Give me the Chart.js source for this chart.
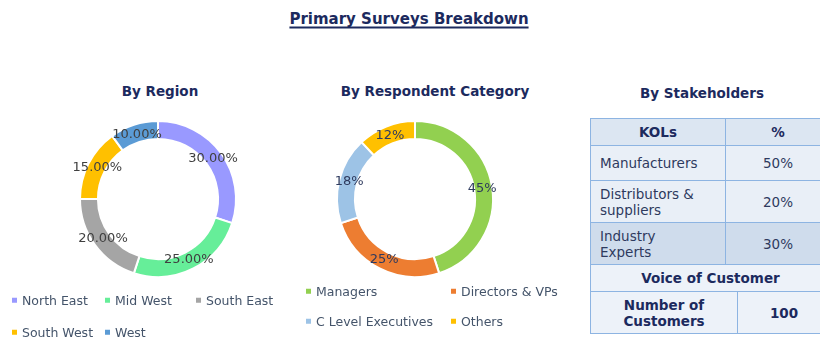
<!DOCTYPE html>
<html>
<head>
<meta charset="utf-8">
<script src="https://cdn.jsdelivr.net/npm/chart.js@4/dist/chart.umd.min.js"></script>
<style>
  html, body { margin: 0; padding: 0; background: #ffffff; }
  body { width: 820px; height: 350px; position: relative; overflow: hidden; font-family: "DejaVu Sans", Verdana, sans-serif; }
  .abs { position: absolute; white-space: nowrap; line-height: 1; }
  .center { transform: translate(-50%, -50%); }
  #title { left: 409px; top: 19px; font-size: 15px; font-weight: bold; color: #1C2A5E;
           text-decoration: underline; text-decoration-thickness: 2px; text-underline-offset: 3px; }
  .sub { font-size: 13.5px; font-weight: bold; color: #1C2A5E; }
  .donut { position: absolute; width: 200px; height: 200px; }
  .leg { position: absolute; font-size: 12.5px; color: #44546A; line-height: 1; white-space: nowrap; transform: translateY(-50%); }
  .leg i { display: inline-block; width: 5px; height: 5px; margin-right: 5px; vertical-align: middle; position: relative; top: -1px; }
  table { position: absolute; border-collapse: collapse; font-size: 13.5px; color: #2E3A5E; }
  td { border: 1.5px solid #8DB4E2; padding: 0; }
</style>
</head>
<body>
<div id="title" class="abs center">Primary Surveys Breakdown</div>
<div class="abs center sub" style="left:160px; top:92px;">By Region</div>
<div class="abs center sub" style="left:435px; top:92px;">By Respondent Category</div>
<div class="abs center sub" style="left:702px; top:94px;">By Stakeholders</div>

<div class="donut" style="left:58px; top:99px;"><canvas id="regionChart" width="200" height="200"></canvas></div>
<div class="donut" style="left:315px; top:99px;"><canvas id="respChart" width="200" height="200"></canvas></div>

<div id="regionLegend"></div>
<div id="respLegend"></div>

<table id="kolTable" style="left:590px; top:118px; width:241px;"></table>
<table id="vocTable" style="left:590px; top:264px; width:241px;"></table>

<script>
// Survey split by region
const regionLabels = ["North East", "Mid West", "South East", "South West", "West"];
const regionShares = [30, 25, 20, 15, 10];
const regionColors = ["#9999FF", "#66EE99", "#A5A5A5", "#FFC000", "#5B9BD5"];

// Survey split by respondent category
const respLabels = ["Managers", "Directors & VPs", "C Level Executives", "Others"];
const respShares = [45, 25, 18, 12];
const respColors = ["#92D050", "#ED7D31", "#9DC3E6", "#FFC000"];

// Stakeholder table
const kolNames = ["Manufacturers", "Distributors &<br>suppliers", "Industry<br>Experts"];
const kolShares = [50, 20, 30];
const customerCount = 100;

// Writes each slice's value at the middle of its ring segment
const sliceLabels = {
  id: "sliceLabels",
  afterDatasetsDraw(chart, args, opts) {
    const ctx = chart.ctx;
    const meta = chart.getDatasetMeta(0);
    const data = chart.data.datasets[0].data;
    ctx.save();
    ctx.font = "13px 'DejaVu Sans'";
    ctx.fillStyle = opts.color;
    ctx.textAlign = "center";
    ctx.textBaseline = "middle";
    meta.data.forEach((arc, i) => {
      const p = arc.getProps(["x", "y", "startAngle", "endAngle", "innerRadius", "outerRadius"], true);
      const a = (p.startAngle + p.endAngle) / 2;
      const r = (p.innerRadius + p.outerRadius) / 2 - 1;
      ctx.fillText(opts.format(data[i]), p.x + Math.cos(a) * r, p.y + Math.sin(a) * r);
    });
    ctx.restore();
  }
};

function makeDonut(id, labels, values, colors, color, format) {
  return new Chart(document.getElementById(id), {
    type: "doughnut",
    data: {
      labels: labels,
      datasets: [{
        data: values,
        backgroundColor: colors,
        borderColor: "#ffffff",
        borderWidth: 2,
        hoverOffset: 0
      }]
    },
    options: {
      responsive: false,
      animation: false,
      events: [],
      radius: 78,
      cutout: "77%",
      layout: { padding: 0 },
      plugins: {
        legend: { display: false },
        tooltip: { enabled: false },
        sliceLabels: { color: color, format: format }
      }
    },
    plugins: [sliceLabels]
  });
}

makeDonut("regionChart", regionLabels, regionShares, regionColors, "#404040", v => v.toFixed(2) + "%");
makeDonut("respChart", respLabels, respShares, respColors, "#2E3A5E", v => v + "%");

function buildLegend(hostId, labels, colors, cols, rows) {
  const host = document.getElementById(hostId);
  labels.forEach((lab, i) => {
    const el = document.createElement("div");
    el.className = "leg";
    el.style.left = cols[i % cols.length] + "px";
    el.style.top = rows[Math.floor(i / cols.length)] + "px";
    el.innerHTML = '<i style="background:' + colors[i] + '"></i>' + lab.replace(/&/g, "&amp;");
    host.appendChild(el);
  });
}
buildLegend("regionLegend", regionLabels, regionColors, [12, 105, 196], [301, 333]);
buildLegend("respLegend", respLabels, respColors, [306, 451], [292, 322]);

// Stakeholder table rows
const kol = document.getElementById("kolTable");
let html = '<tr style="height:27px;background:#DCE6F2;font-weight:bold;color:#1C2A5E;">' +
           '<td style="width:134px;text-align:center;">KOLs</td><td style="text-align:center;">%</td></tr>';
const rowBg = ["#E9EFF7", "#E9EFF7", "#CFDCEC"];
const rowH = [35, 42, 42];
kolNames.forEach((n, i) => {
  html += '<tr style="height:' + rowH[i] + 'px;background:' + rowBg[i] + ';">' +
          '<td style="padding-left:9px;line-height:16px;">' + n.replace(" &", " &amp;") + '</td>' +
          '<td style="text-align:center;">' + kolShares[i] + '%</td></tr>';
});
kol.innerHTML = html;

const voc = document.getElementById("vocTable");
voc.innerHTML =
  '<tr style="height:27px;background:#EDF2F9;font-weight:bold;color:#1C2A5E;">' +
  '<td colspan="2" style="text-align:center;">Voice of Customer</td></tr>' +
  '<tr style="height:42px;background:#EDF2F9;font-weight:bold;color:#1C2A5E;">' +
  '<td style="width:146px;text-align:center;line-height:16px;">Number of<br>Customers</td>' +
  '<td style="text-align:center;">' + customerCount + '</td></tr>';
</script>
</body>
</html>
